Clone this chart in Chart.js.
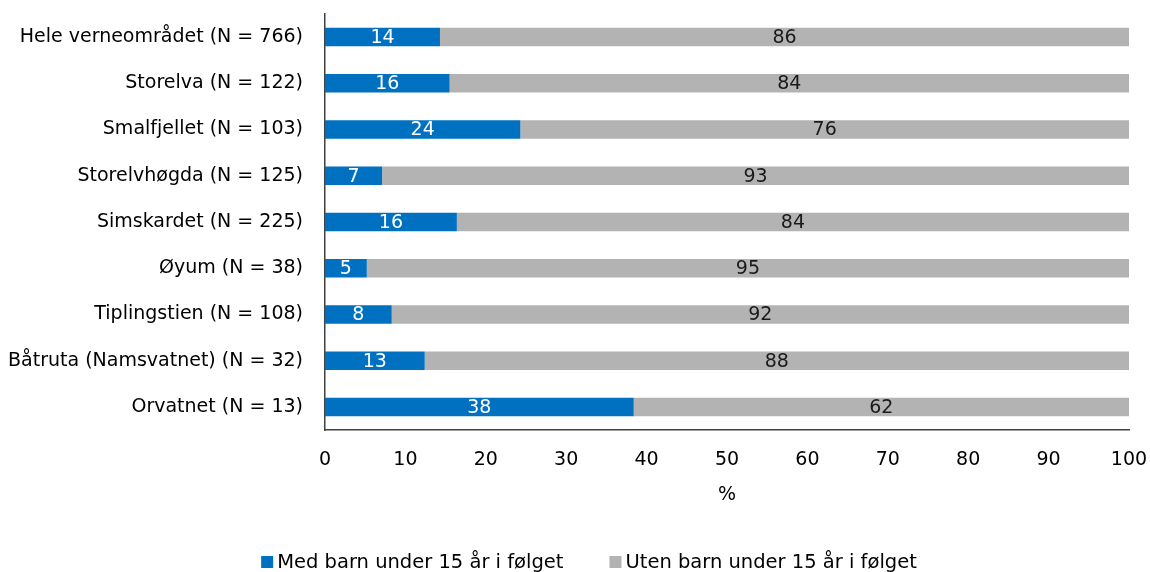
<!DOCTYPE html>
<html><head><meta charset="utf-8">
<script src="https://cdn.jsdelivr.net/npm/chart.js@4.4.1/dist/chart.umd.min.js"></script>
<style>html,body{margin:0;padding:0;background:#fff;overflow:hidden}#wrap{width:1150px;height:572px}</style>
</head><body><div id="wrap"><canvas id="c" width="1150" height="572"></canvas></div>
<script>
const categories = ['Hele verneområdet (N = 766)','Storelva (N = 122)','Smalfjellet (N = 103)','Storelvhøgda (N = 125)','Simskardet (N = 225)','Øyum (N = 38)','Tiplingstien (N = 108)','Båtruta (Namsvatnet) (N = 32)','Orvatnet (N = 13)'];
const medBarn = [14.3, 15.5, 24.3, 7.1, 16.4, 5.2, 8.3, 12.4, 38.4];
const utenBarn = [85.7, 84.5, 75.7, 92.9, 83.6, 94.8, 91.7, 87.6, 61.6];
const medLabels = [14, 16, 24, 7, 16, 5, 8, 13, 38];
const utenLabels = [86, 84, 76, 93, 84, 95, 92, 88, 62];
const seriesNames = ['Med barn under 15 år i følget', 'Uten barn under 15 år i følget'];
const axisTitle = '%';

const FONT = "'DejaVu Sans', sans-serif";
const FS = 19;
const LFS = 19.5;
const BLUE = '#0070C0';
const GRAY = '#B3B3B3';

const valueLabels = {
  id: 'valueLabels',
  afterDatasetsDraw(chart) {
    const ctx = chart.ctx;
    const lbls = [medLabels, utenLabels];
    const cols = ['#ffffff', '#1a1a1a'];
    ctx.save();
    ctx.font = FS + 'px ' + FONT;
    ctx.textAlign = 'center';
    ctx.textBaseline = 'middle';
    chart.data.datasets.forEach((ds, di) => {
      const meta = chart.getDatasetMeta(di);
      meta.data.forEach((el, i) => {
        ctx.fillStyle = cols[di];
        ctx.fillText(String(lbls[di][i]), (el.x + el.base) / 2, el.y + 1);
      });
    });
    ctx.restore();
  }
};

const customLegend = {
  id: 'customLegend',
  afterDraw(chart) {
    const ctx = chart.ctx;
    ctx.save();
    ctx.font = LFS + 'px ' + FONT;
    ctx.textBaseline = 'middle';
    ctx.textAlign = 'left';
    const box = 12, gapBox = 4, gapItem = 46;
    const colors = [BLUE, GRAY];
    const widths = seriesNames.map(s => ctx.measureText(s).width);
    const total = widths.reduce((a, w) => a + box + gapBox + w, 0) + gapItem;
    let x = 589 - total / 2;
    const y = 562;
    seriesNames.forEach((s, i) => {
      ctx.fillStyle = colors[i];
      ctx.fillRect(x, y - box / 2, box, box);
      ctx.fillStyle = '#000';
      ctx.fillText(s, x + box + gapBox, y + 1);
      x += box + gapBox + widths[i] + gapItem;
    });
    ctx.restore();
  }
};

new Chart(document.getElementById('c'), {
  type: 'bar',
  data: {
    labels: categories,
    datasets: [
      { label: seriesNames[0], data: medBarn, backgroundColor: BLUE, borderWidth: 0 },
      { label: seriesNames[1], data: utenBarn, backgroundColor: GRAY, borderWidth: 0 }
    ]
  },
  options: {
    indexAxis: 'y',
    responsive: false,
    animation: false,
    devicePixelRatio: 1,
    layout: { padding: { left: 0, right: 21, top: 14, bottom: 50 } },
    barPercentage: 0.4,
    categoryPercentage: 1,
    plugins: { legend: { display: false }, tooltip: { enabled: false } },
    scales: {
      x: {
        stacked: true, min: 0, max: 100,
        ticks: { stepSize: 10, color: '#000', font: { family: FONT, size: FS }, padding: 11, maxRotation: 0 },
        grid: { display: false },
        border: { display: true, color: '#404040', width: 1.5 },
        title: { display: true, text: axisTitle, color: '#000', font: { family: FONT, size: FS }, padding: { top: 6, bottom: 16 } },
        afterFit(s) { s.height = 92; s.paddingLeft = 0; s.paddingRight = 0; }
      },
      y: {
        stacked: true,
        ticks: { color: '#000', font: { family: FONT, size: FS }, padding: 14 },
        grid: { display: false },
        border: { display: true, color: '#404040', width: 1.5 },
        afterFit(s) { s.width = 325; s.paddingTop = 0; s.paddingBottom = 0; }
      }
    }
  },
  plugins: [valueLabels, customLegend]
});
</script>
</body></html>
